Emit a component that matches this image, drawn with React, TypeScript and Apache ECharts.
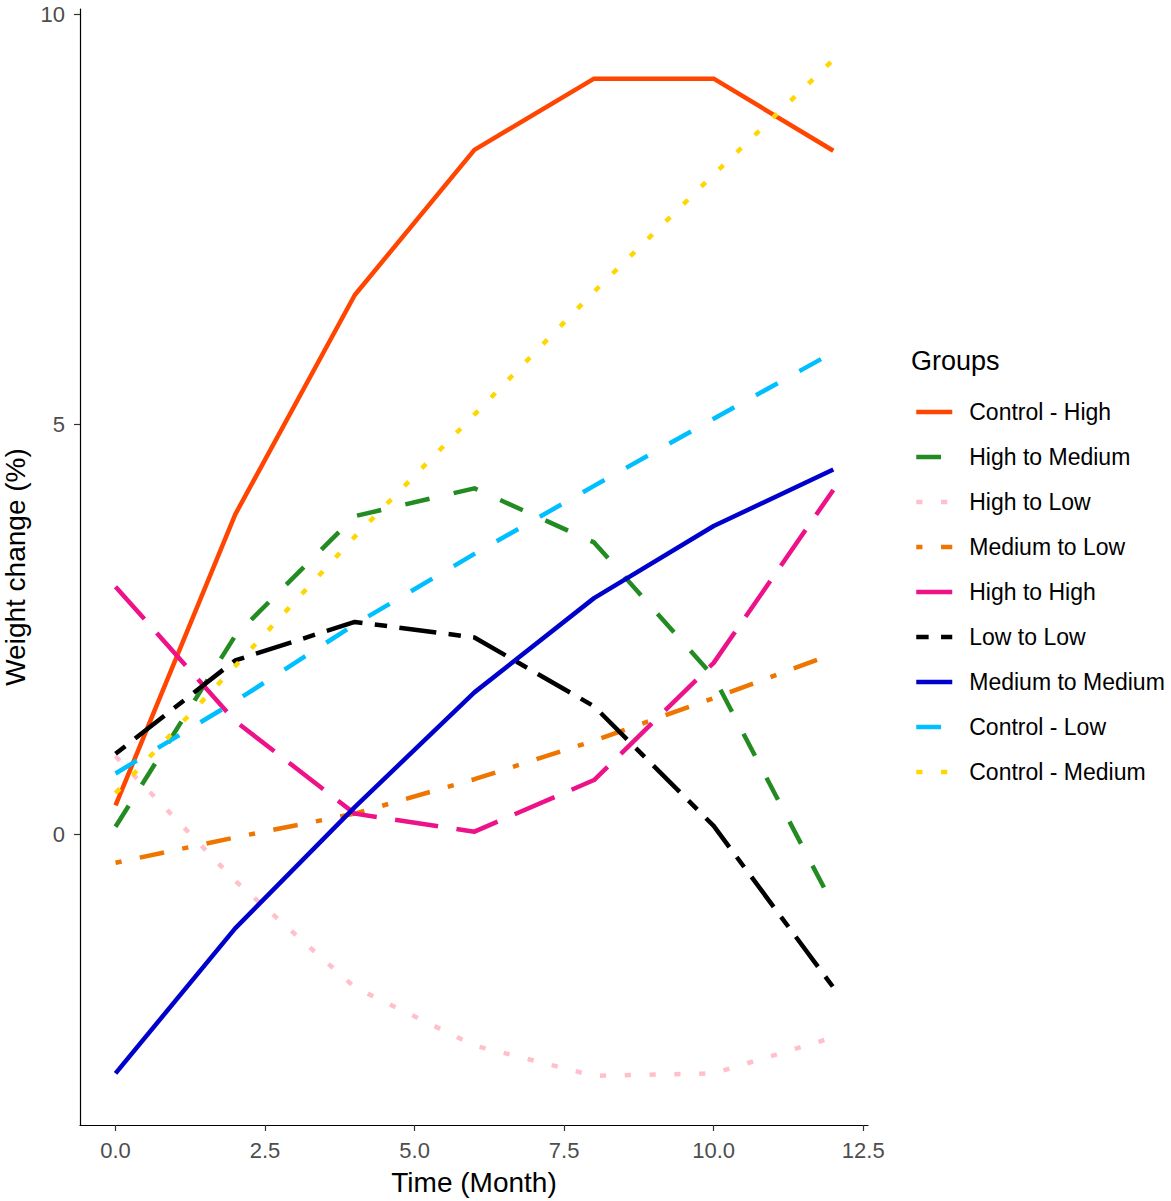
import React, { useEffect, useRef } from "react";
import * as echarts from "echarts";

const MONTHS = [0, 2, 4, 6, 8, 10, 12];
const GROUPS = [
  "Control - High",
  "High to Medium",
  "High to Low",
  "Medium to Low",
  "High to High",
  "Low to Low",
  "Medium to Medium",
  "Control - Low",
  "Control - Medium",
];
const controlHigh = [0.35, 3.9, 6.58, 8.35, 9.22, 9.22, 8.34];
const highToMedium = [0.09, 2.42, 3.88, 4.22, 3.56, 1.92, -0.87];
const highToLow = [0.95, -0.57, -1.87, -2.58, -2.95, -2.92, -2.48];
const mediumToLow = [-0.35, -0.04, 0.25, 0.67, 1.14, 1.66, 2.2];
const highToHigh = [3.02, 1.38, 0.25, 0.03, 0.66, 2.09, 4.2];
const lowToLow = [0.98, 2.12, 2.59, 2.4, 1.56, 0.1, -1.87];
const mediumToMedium = [-2.92, -1.15, 0.33, 1.73, 2.88, 3.76, 4.45];
const controlLow = [0.74, 1.62, 2.56, 3.42, 4.25, 5.07, 5.88];
const controlMedium = [0.5, 2.05, 3.63, 5.12, 6.62, 8.05, 9.45];

const X_TICKS = [0, 2.5, 5, 7.5, 10, 12.5];
const Y_TICKS = [0, 5, 10];

const SERIES_VALUES = [
  controlHigh,
  highToMedium,
  highToLow,
  mediumToLow,
  highToHigh,
  lowToLow,
  mediumToMedium,
  controlLow,
  controlMedium,
];
const COLORS = [
  "#FF4500",
  "#228B22",
  "#FFC0CB",
  "#EE7600",
  "#EE1289",
  "#000000",
  "#0000CD",
  "#00BFFF",
  "#FFD700",
];
const U = 6.2;
const SOLID = "solid";
const DASHED = [4 * U, 4 * U];
const DOTTED = [U, 3 * U];
const DOTDASH = [U, 3 * U, 4 * U, 3 * U];
const LONGDASH = [7 * U, 3 * U];
const TWODASH = [2 * U, 2 * U, 6 * U, 2 * U];
const DASHES: any[] = [SOLID, DASHED, DOTTED, DOTDASH, LONGDASH, TWODASH, SOLID, DASHED, DOTTED];

const FONT = "'Liberation Sans', Arial, sans-serif";

export default function App() {
  const ref = useRef<HTMLDivElement>(null);
  useEffect(() => {
    if (!ref.current) return;
    const chart = echarts.init(ref.current, null, { renderer: "svg" });
    const series = GROUPS.map((name, i) => ({
      name,
      type: "line",
      symbol: "none",
      showSymbol: false,
      data: MONTHS.map((m, j) => [m, SERIES_VALUES[i][j]]),
      lineStyle: {
        color: COLORS[i],
        width: 4.5,
        type: DASHES[i],
        cap: "butt",
        join: "round",
      },
      itemStyle: { color: COLORS[i] },
      emphasis: { disabled: true },
      z: 2,
    }));
    chart.setOption({
      animation: false,
      textStyle: { fontFamily: FONT },
      title: {
        text: "Groups",
        left: 911,
        top: 347,
        padding: 0,
        textStyle: { fontSize: 27, fontWeight: "normal", color: "#000", fontFamily: FONT },
      },
      legend: {
        orient: "vertical",
        left: 914,
        top: 400,
        padding: 0,
        itemWidth: 36,
        itemHeight: 24,
        itemGap: 21,
        data: GROUPS,
        selectedMode: false,
        itemStyle: { opacity: 0 },
        lineStyle: { width: 4.5 },
        textStyle: {
          fontSize: 23,
          lineHeight: 24,
          color: "#000",
          fontFamily: FONT,
          padding: [0, 0, 0, 12],
        },
      },
      grid: {
        left: 80,
        right: 303,
        top: 9,
        bottom: 76,
        containLabel: false,
        outerBoundsMode: "none",
      },
      xAxis: {
        type: "value",
        min: -0.594,
        max: 12.58,
        name: "Time (Month)",
        nameLocation: "middle",
        nameGap: 43,
        nameTextStyle: { fontSize: 28, color: "#000", fontFamily: FONT },
        axisLine: { onZero: false, lineStyle: { color: "#000", width: 1.2 } },
        axisTick: { customValues: X_TICKS, length: 6, lineStyle: { color: "#333", width: 1.2 } },
        axisLabel: {
          customValues: X_TICKS,
          formatter: (v: number) => v.toFixed(1),
          fontSize: 22,
          color: "#4D4D4D",
          margin: 14,
          fontFamily: FONT,
        },
        splitLine: { show: false },
      },
      yAxis: {
        type: "value",
        min: -3.55,
        max: 10.07,
        name: "Weight change (%)",
        nameLocation: "middle",
        nameGap: 42,
        nameRotate: 90,
        nameTextStyle: { fontSize: 28, color: "#000", fontFamily: FONT },
        axisLine: { show: true, onZero: false, lineStyle: { color: "#000", width: 1.2 } },
        axisTick: { show: true, customValues: Y_TICKS, length: 6, lineStyle: { color: "#333", width: 1.2 } },
        axisLabel: {
          customValues: Y_TICKS,
          formatter: (v: number) => String(v),
          fontSize: 22,
          color: "#4D4D4D",
          margin: 15,
          fontFamily: FONT,
        },
        splitLine: { show: false },
      },
      series,
    });
    return () => chart.dispose();
  }, []);
  return (
    <div
      ref={ref}
      style={{ position: "fixed", left: 0, top: 0, width: 1171, height: 1201, background: "#fff" }}
    />
  );
}
